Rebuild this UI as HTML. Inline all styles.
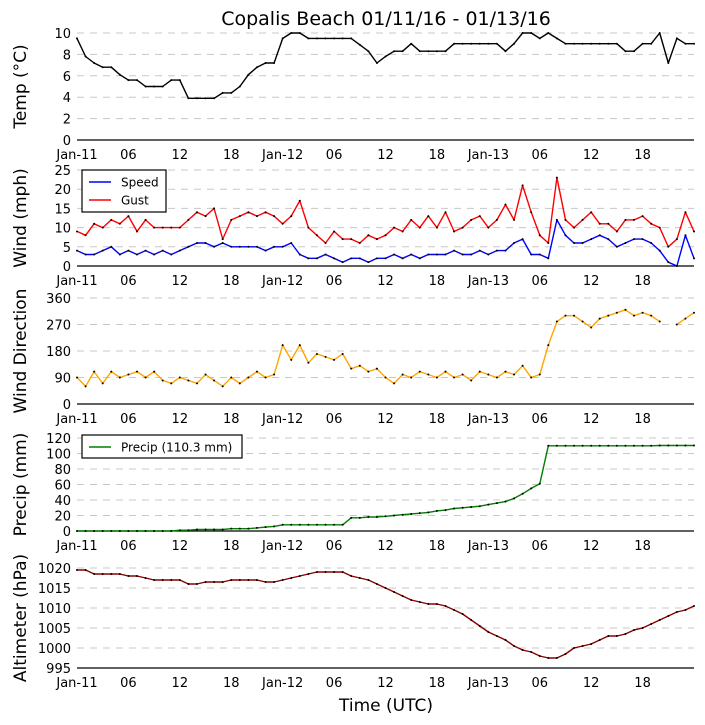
<!DOCTYPE html>
<html><head><meta charset="utf-8"><style>
body{margin:0;background:#fff;}
svg{display:block;font-family:"DejaVu Sans","Liberation Sans",sans-serif;}
</style></head><body>
<svg id="c" width="705" height="725"></svg>
<script>
const hours=[];for(let i=0;i<=72;i++)hours.push(i);
const timeTickHours=[0,6,12,18,24,30,36,42,48,54,60,66];
const timeTickLabels=["Jan-11","06","12","18","Jan-12","06","12","18","Jan-13","06","12","18"];
const tempVals=[9.5,7.8,7.2,6.8,6.8,6.1,5.6,5.6,5,5,5,5.6,5.6,3.9,3.9,3.9,3.9,4.4,4.4,5,6.1,6.8,7.2,7.2,9.5,10,10,9.5,9.5,9.5,9.5,9.5,9.5,8.9,8.3,7.2,7.8,8.3,8.3,9,8.3,8.3,8.3,8.3,9,9,9,9,9,9,8.3,9,10,10,9.5,10,9.5,9,9,9,9,9,9,9,8.3,8.3,9,9,10,7.2,9.5,9,9];
const speedVals=[4,3,3,4,5,3,4,3,4,3,4,3, 4,5,6,6,5,6,5,5,5,5,4,5, 5,6,3,2,2,3,2,1,2,2,1,2, 2,3,2,3,2,3,3,3,4,3,3,4, 3,4,4,6,7,3,3,2,12,8,6,6, 7,8,7,5,6,7,7,6,4,1,0,8,2];
const gustVals=[9,8,11,10,12,11,13,9,12,10,10,10, 10,12,14,13,15,7,12,13,14,13,14,13, 11,13,17,10,8,6,9,7,7,6,8,7, 8,10,9,12,10,13,10,14,9,10,12,13, 10,12,16,12,21,14,8,6,23,12,10,12, 14,11,11,9,12,12,13,11,10,5,7,14,9];
const dirVals=[90,60,110,70,110,90,100,110,90,110,80,70, 90,80,70,100,80,60,90,70,90,110,90,100, 200,150,200,140,170,160,150,170,120,130,110,120, 90,70,100,90,110,100,90,110,90,100,80,110, 100,90,110,100,130,90,100,200,280,300,300,280, 260,290,300,310,320,300,310,300,280,null,270,290,310];
const precipVals=[0,0,0,0,0,0,0,0,0,0,0,0, 1,1,2,2,2,2,3,3,3,4,5,6, 8,8,8,8,8,8,8,8,17,17,18,18, 19,20,21,22,23,24,26,27,29,30,31,32, 34,36,38,42,48,55,61,110,110,110,110,110, 110,110,110,110,110,110,110,110,110.3,110.3,110.3,110.3,110.3];
const altVals=[1019.5,1019.5,1018.5,1018.5,1018.5,1018.5,1018,1018,1017.5,1017,1017,1017, 1017,1016,1016,1016.5,1016.5,1016.5,1017,1017,1017,1017,1016.5,1016.5, 1017,1017.5,1018,1018.5,1019,1019,1019,1019,1018,1017.5,1017,1016, 1015,1014,1013,1012,1011.5,1011,1011,1010.5,1009.5,1008.5,1007,1005.5, 1004,1003,1002,1000.5,999.5,999,998,997.5,997.5,998.5,1000,1000.5, 1001,1002,1003,1003,1003.5,1004.5,1005,1006,1007,1008,1009,1009.5,1010.5];

const NS="http://www.w3.org/2000/svg";
const svg=document.getElementById('c');
function mk(tag,attrs,parent){const e=document.createElementNS(NS,tag);for(const k in attrs)e.setAttribute(k,attrs[k]);(parent||svg).appendChild(e);return e;}
const X0=77,X1=694;
function xs(h){return X0+(X1-X0)*h/72;}

const panels=[
 {name:'temp',title:'Temp (\u00b0C)',min:0,max:10,top:33,bot:140,ticks:[0,2,4,6,8,10]},
 {name:'wind',title:'Wind (mph)',min:0,max:25,top:170,bot:266,ticks:[0,5,10,15,20,25]},
 {name:'direction',title:'Wind Direction',min:0,max:360,top:298,bot:404,ticks:[0,90,180,270,360]},
 {name:'precip',title:'Precip (mm)',min:0,max:120,top:438,bot:531,ticks:[0,20,40,60,80,100,120]},
 {name:'altimeter',title:'Altimeter (hPa)',min:995,max:1020,top:568,bot:668,ticks:[995,1000,1005,1010,1015,1020]}
];

let t=mk('text',{x:386,y:25,'text-anchor':'middle','font-size':19});
t.textContent='Copalis Beach 01/11/16 - 01/13/16';



panels.forEach(p=>{
  p.ys=v=>p.bot-(v-p.min)/(p.max-p.min)*(p.bot-p.top);
  const g=mk('g',{});
  
  
  p.g=g;
  p.ticks.forEach(v=>{
    const y=p.ys(v);
    if(v!==p.min){const l=mk('line',{x1:X0,x2:X1,y1:y,y2:y,stroke:'#c8c8c8','stroke-dasharray':'7,6','stroke-width':1},g);
      
      }
    const tx=mk('text',{x:71,y:y+5,'text-anchor':'end','font-size':13},g);
    tx.textContent=v;
    
    
  });
  const ax=mk('line',{x1:X0,x2:X1,y1:p.bot,y2:p.bot,stroke:'#000','stroke-width':1.2},g);
  
  
  timeTickHours.forEach((h,i)=>{
    const tx=mk('text',{x:xs(h),y:p.bot+19,'text-anchor':'middle','font-size':13},g);
    tx.textContent=timeTickLabels[i];
    
    
  });
  const cy=(p.top+p.bot)/2;
  const yt=mk('text',{x:0,y:0,'text-anchor':'middle','font-size':17,transform:`translate(26,${cy}) rotate(-90)`},g);
  yt.textContent=p.title;
  
  
});

function series(p,vals,color,name){
  let d='';let pen=false;
  vals.forEach((v,i)=>{if(v===null){pen=false;return;}d+=(pen?'L':'M')+xs(hours[i]).toFixed(1)+','+p.ys(v).toFixed(1);pen=true;});
  const path=mk('path',{d:d,fill:'none',stroke:color,'stroke-width':1.4,'stroke-linejoin':'round'},p.g);
  
  
  vals.forEach((v,i)=>{if(v===null)return;
    const c=mk('circle',{cx:xs(hours[i]),cy:p.ys(v),r:1,fill:'#000'},p.g);
    
    
  });
}
series(panels[0],tempVals,'#000','temp');
series(panels[1],gustVals,'#f00','gust');
series(panels[1],speedVals,'#00f','speed');
series(panels[2],dirVals,'#ffa500','direction');
series(panels[3],precipVals,'#008000','precip');
series(panels[4],altVals,'#8b0000','altimeter');

function legend(x,y,w,h,items,name){
  const g=mk('g',{});
  
  
  mk('rect',{x:x,y:y,width:w,height:h,fill:'#fff',stroke:'#000','stroke-width':1.2},g);
  items.forEach((it,i)=>{
    const yy=y+12+i*18;
    const l=mk('line',{x1:x+7,x2:x+29,y1:yy,y2:yy,stroke:it[1],'stroke-width':1.5},g);
    
    
    const tx=mk('text',{x:x+39,y:yy+4.5,'font-size':12},g);
    tx.textContent=it[0];
    
    
  });
}
legend(82,170,84,42,[['Speed','#00f'],['Gust','#f00']],'wind-legend');
legend(82,435,160,23,[['Precip (110.3 mm)','#008000']],'precip-legend');

const xt=mk('text',{x:386,y:711,'text-anchor':'middle','font-size':17});
xt.textContent='Time (UTC)';


</script>
</body></html>
